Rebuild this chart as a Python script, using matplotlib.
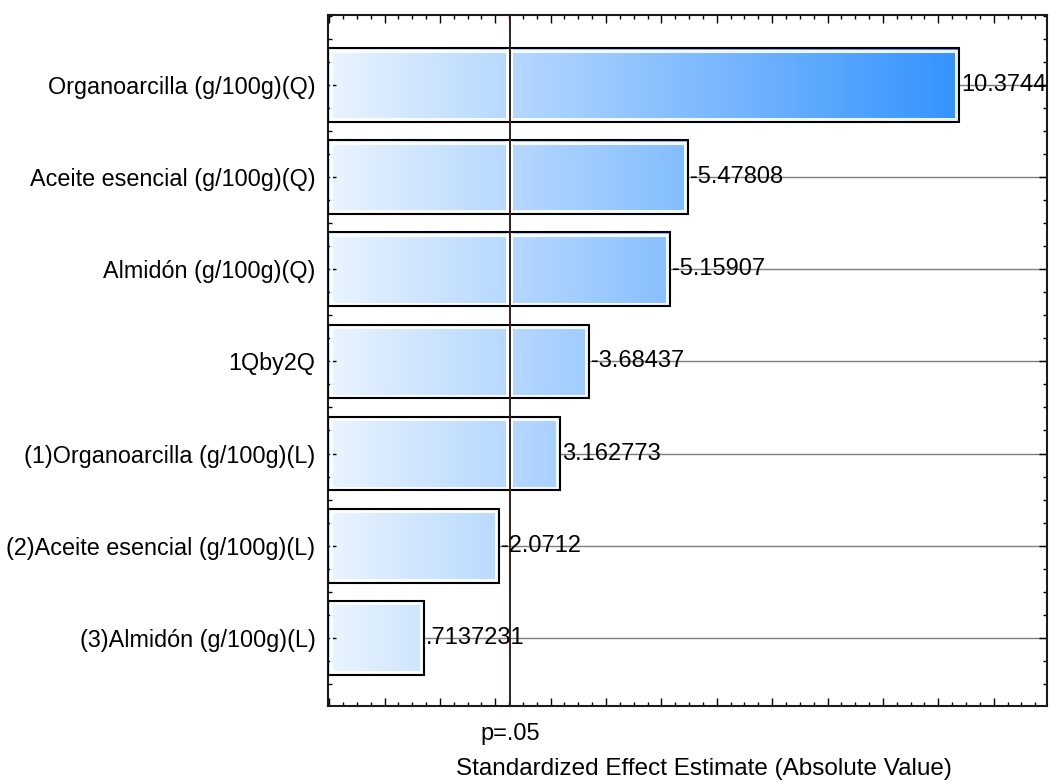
import matplotlib
matplotlib.use("Agg")
import matplotlib.pyplot as plt
import numpy as np
from matplotlib.patches import Rectangle
from matplotlib.colors import LinearSegmentedColormap
from matplotlib.ticker import MultipleLocator, NullFormatter
import matplotlib.transforms as mtransforms

plt.rcParams['font.family'] = ['Liberation Sans', 'DejaVu Sans']

# Effects, listed top to bottom
effects = [
    "Organoarcilla (g/100g)(Q)",
    "Aceite esencial (g/100g)(Q)",
    "Almidón (g/100g)(Q)",
    "1Qby2Q",
    "(1)Organoarcilla (g/100g)(L)",
    "(2)Aceite esencial (g/100g)(L)",
    "(3)Almidón (g/100g)(L)",
]
estimates = [10.3744, -5.47808, -5.15907, -3.68437, 3.162773, -2.0712, 0.7137231]
p_critical = 2.2622
p_label = "p=.05"
x_label = "Standardized Effect Estimate (Absolute Value)"


def fmt(v):
    s = repr(v)
    if s.startswith("0."):
        s = s[1:]
    elif s.startswith("-0."):
        s = "-" + s[2:]
    return s


xmin, xmax = -1.02, 11.96
ymin, ymax = -0.76, 6.74
bar_h = 0.8
FS = 17

fig = plt.figure(figsize=(10.5, 7.83), dpi=100)
ax = fig.add_axes([0.3124, 0.0983, 0.6846, 0.8827])
ax.set_xlim(xmin, xmax)
ax.set_ylim(ymax, ymin)

cmap = LinearSegmentedColormap.from_list("blues", ["#eaf4fe", "#1a85ff"])
grad = np.linspace(0, 1, 512).reshape(1, -1)

px_x = 55.38
px_y = 92.2
ins_x = 2.5 / px_x
ins_y = 2.5 / px_y
gap_x = 3.5 / px_x

for i, (name, v) in enumerate(zip(effects, estimates)):
    a = abs(v)
    y0 = i - bar_h / 2
    clip = Rectangle((xmin, y0), a - xmin, bar_h, transform=ax.transData,
                     facecolor="none", edgecolor="none")
    ax.add_patch(clip)
    im = ax.imshow(grad, cmap=cmap, extent=(xmin, xmax, y0 + bar_h, y0),
                   aspect="auto", zorder=1, interpolation="bilinear")
    im.set_clip_path(clip)
    # white inner rim
    ax.add_patch(Rectangle((xmin + ins_x * 1.2, y0 + ins_y), a - xmin - 2.4 * ins_x,
                           bar_h - 2 * ins_y, facecolor="none", edgecolor="white",
                           lw=2.2, zorder=2, alpha=0.9))
    # white gap around the significance line inside the bar
    if a > p_critical:
        ax.add_patch(Rectangle((p_critical - gap_x, y0), 2 * gap_x, bar_h,
                               facecolor="white", edgecolor="none", zorder=2.5))
    # leader line and value
    ax.plot([a, xmax], [i, i], color="#7f7f7f", lw=1.0, zorder=1.5)
    ax.text(a + 0.04, i, fmt(v), ha="left", va="center", fontsize=FS,
            color="black", zorder=5)

for i, v in enumerate(estimates):
    a = abs(v)
    ax.add_patch(Rectangle((xmin, i - bar_h / 2), a - xmin, bar_h, facecolor="none",
                           edgecolor="black", lw=1.5, zorder=3))

ax.axvline(p_critical, color="#3a1c1c", lw=1.4, zorder=4)

ax.set_yticks(range(len(effects)))
ax.set_yticklabels(effects, fontsize=16.8)
ax.yaxis.set_minor_locator(MultipleLocator(0.25))
ax.xaxis.set_major_locator(MultipleLocator(1))
ax.xaxis.set_minor_locator(MultipleLocator(0.25))
ax.xaxis.set_major_formatter(NullFormatter())
ax.tick_params(which="both", direction="in", top=True, right=True, color="black")
ax.tick_params(which="major", length=6, width=1)
ax.tick_params(which="minor", length=3, width=1)
ax.tick_params(axis="y", which="major", pad=9)
for s in ax.spines.values():
    s.set_linewidth(1.5)
    s.set_color("#1a1a1a")

trans = mtransforms.blended_transform_factory(ax.transData, ax.transAxes)
ax.text(p_critical, -0.025, p_label, transform=trans, ha="center", va="top",
        fontsize=FS)
ax.set_xlabel(x_label, fontsize=17.5, labelpad=34)
ax.xaxis.set_label_coords(0.523, -0.075)

fig.savefig("out.png", dpi=100)
